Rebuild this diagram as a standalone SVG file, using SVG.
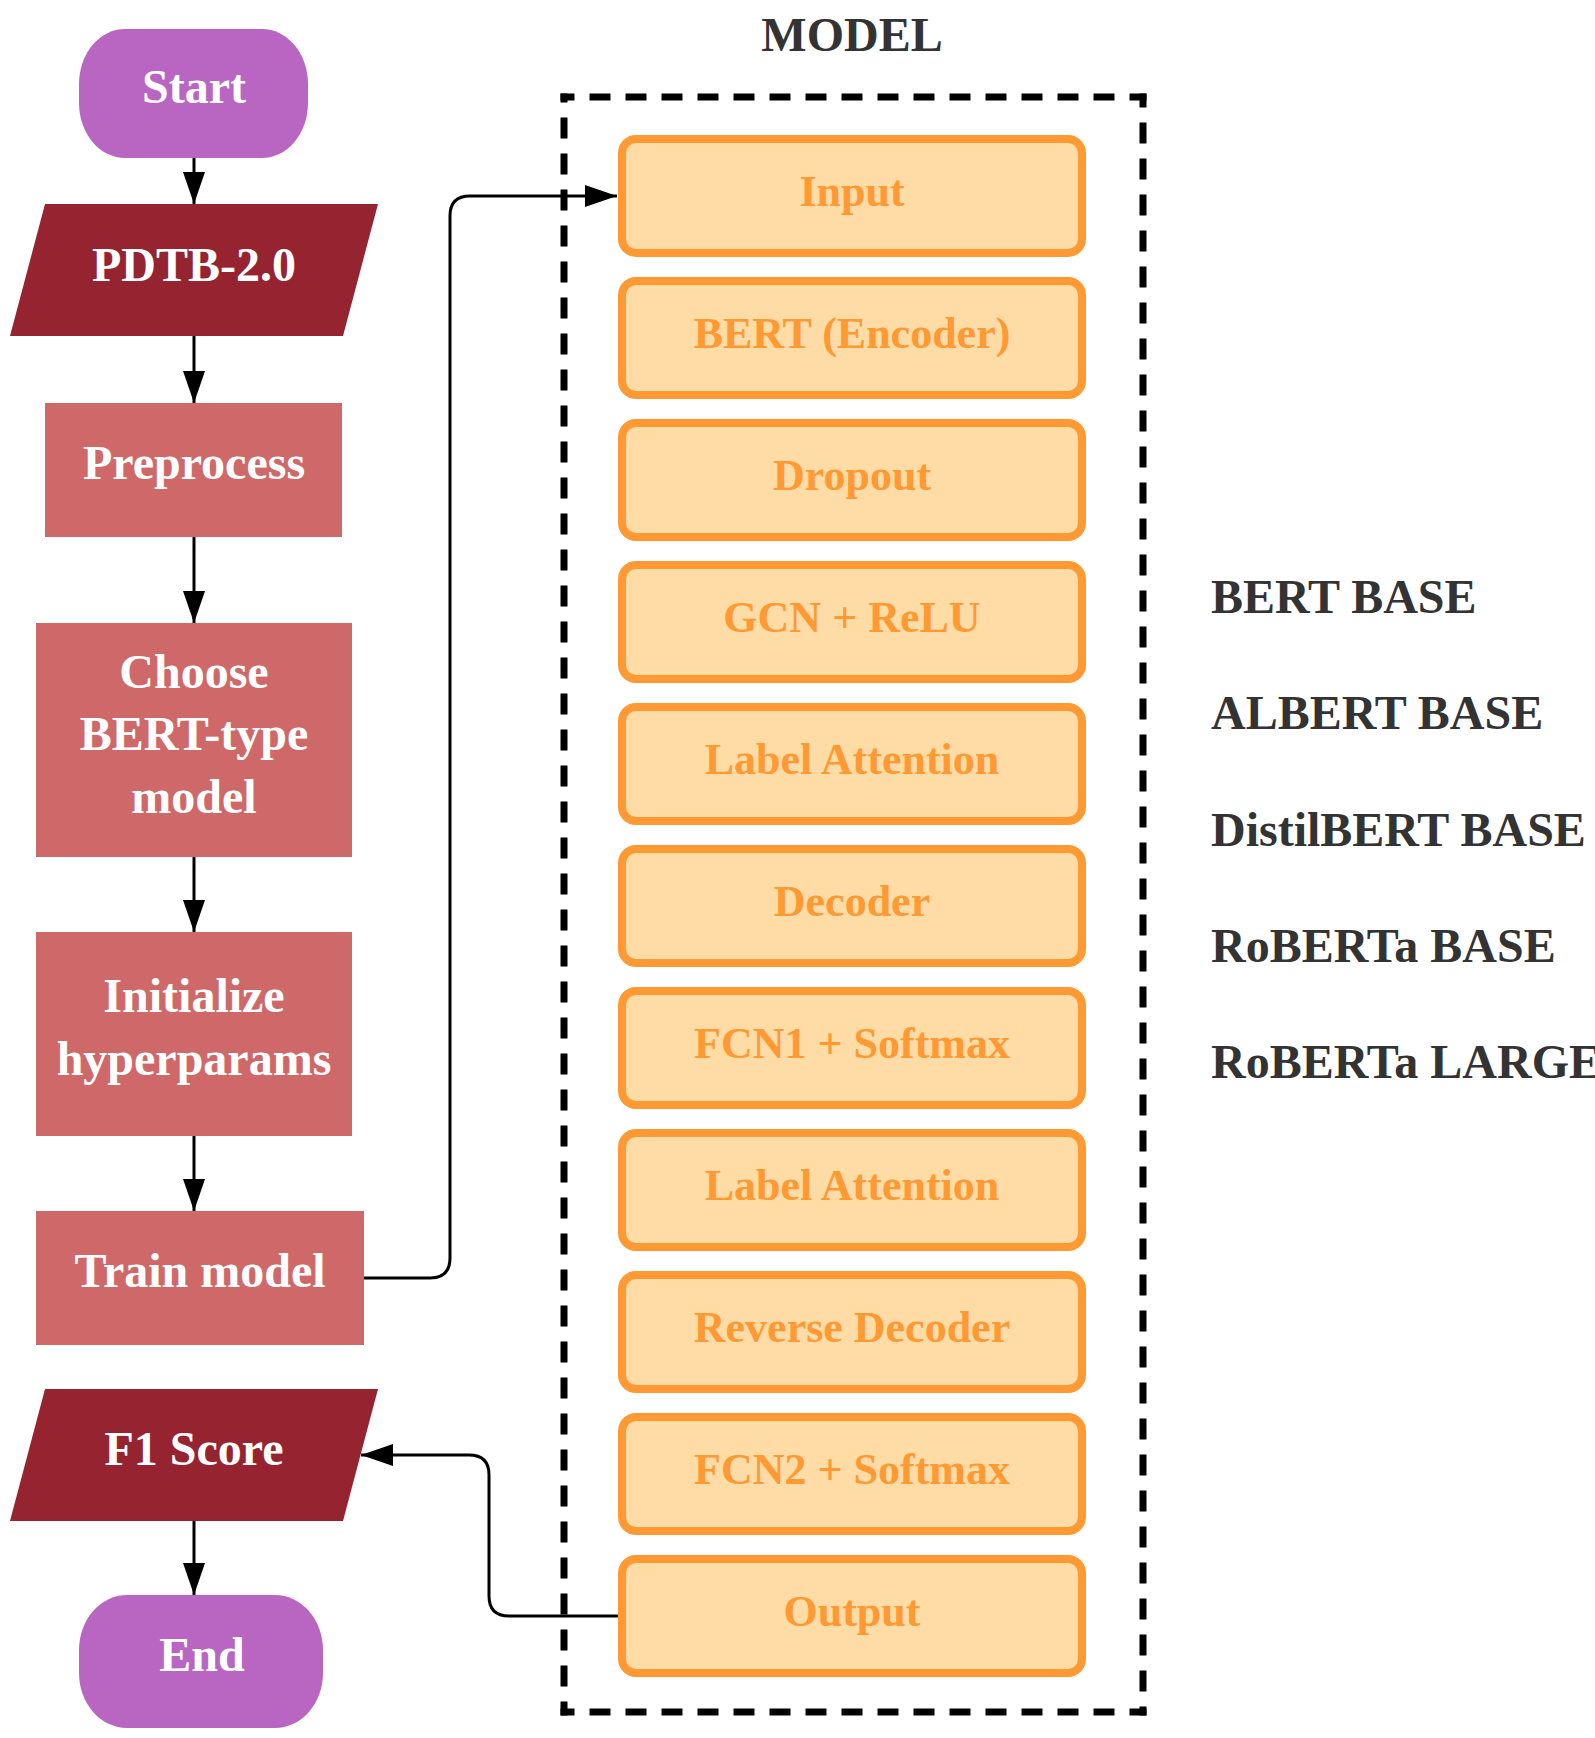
<svg xmlns="http://www.w3.org/2000/svg" width="1595" height="1738" viewBox="0 0 1595 1738">
<style>
  text { font-family: "Liberation Serif", "Times New Roman", serif; font-weight: bold; font-size: 48px; text-anchor: middle; }
  .w { fill: #FFFFFF; }
  .o { fill: #FF9933; font-size: 44px; }
  .g { fill: #333333; text-anchor: start; }
  .term { fill: #B966C2; }
  .data { fill: #962330; }
  .proc { fill: #CF6969; }
  .layer { fill: #FFDBA6; stroke: #FF9933; stroke-width: 8; }
  .edge { fill: none; stroke: #000000; stroke-width: 3; }
  .dash { fill: none; stroke: #000000; stroke-width: 7; stroke-dasharray: 14 22; stroke-dashoffset: 7; stroke-linecap: square; }
</style>
<defs>
  <marker id="arrow" markerUnits="userSpaceOnUse" markerWidth="32" markerHeight="22" refX="32" refY="11" orient="auto">
    <path d="M0,0 L32,11 L0,22 Z" fill="#000000"/>
  </marker>
</defs>
<rect width="1595" height="1738" fill="#FFFFFF"/>

<g id="model-frame">
  <text x="852" y="51" fill="#333333">MODEL</text>
  <path class="dash" d="M564,97 L1143,97"/>
  <path class="dash" d="M1143,97 L1143,1712"/>
  <path class="dash" d="M564,1712 L1143,1712"/>
  <path class="dash" d="M564,1712 L564,97"/>
</g>

<g id="connectors">
  <path class="edge" d="M194,158 L194,204" marker-end="url(#arrow)"/>
  <path class="edge" d="M194,336 L194,403" marker-end="url(#arrow)"/>
  <path class="edge" d="M194,537 L194,623" marker-end="url(#arrow)"/>
  <path class="edge" d="M194,857 L194,932" marker-end="url(#arrow)"/>
  <path class="edge" d="M194,1136 L194,1211" marker-end="url(#arrow)"/>
  <path class="edge" d="M194,1521 L194,1595" marker-end="url(#arrow)"/>
  <path class="edge" d="M364,1278 L430,1278 Q450,1278 450,1258 L450,216 Q450,196 470,196 L617,196" marker-end="url(#arrow)"/>
  <path class="edge" d="M618,1616 L509,1616 Q489,1616 489,1596 L489,1475 Q489,1455 469,1455 L361,1455" marker-end="url(#arrow)"/>
</g>

<g id="start">
  <rect class="term" x="79" y="29" width="229" height="129" rx="46" ry="55"/>
  <text class="w" x="194" y="103">Start</text>
</g>
<g id="pdtb">
  <polygon class="data" points="45,204 378,204 343,336 10,336"/>
  <text class="w" x="194" y="281">PDTB-2.0</text>
</g>
<g id="preprocess">
  <rect class="proc" x="45" y="403" width="297" height="134"/>
  <text class="w" x="194" y="479">Preprocess</text>
</g>
<g id="choose">
  <rect class="proc" x="36" y="623" width="316" height="234"/>
  <text class="w" x="194" y="688">Choose</text>
  <text class="w" x="194" y="750">BERT-type</text>
  <text class="w" x="194" y="813">model</text>
</g>
<g id="initialize">
  <rect class="proc" x="36" y="932" width="316" height="204"/>
  <text class="w" x="194" y="1012">Initialize</text>
  <text class="w" x="194" y="1075">hyperparams</text>
</g>
<g id="train">
  <rect class="proc" x="36" y="1211" width="328" height="134"/>
  <text class="w" x="200" y="1287">Train model</text>
</g>
<g id="f1">
  <polygon class="data" points="45,1389 378,1389 343,1521 10,1521"/>
  <text class="w" x="194" y="1465">F1 Score</text>
</g>
<g id="end">
  <rect class="term" x="79" y="1595" width="244" height="133" rx="48" ry="55"/>
  <text class="w" x="202" y="1671">End</text>
</g>

<g id="layer-input"><rect class="layer" x="622" y="139" width="460" height="114" rx="14"/><text class="o" x="852" y="206">Input</text></g>
<g id="layer-bert"><rect class="layer" x="622" y="281" width="460" height="114" rx="14"/><text class="o" x="852" y="348">BERT (Encoder)</text></g>
<g id="layer-dropout"><rect class="layer" x="622" y="423" width="460" height="114" rx="14"/><text class="o" x="852" y="490">Dropout</text></g>
<g id="layer-gcn"><rect class="layer" x="622" y="565" width="460" height="114" rx="14"/><text class="o" x="852" y="632">GCN + ReLU</text></g>
<g id="layer-label-attention-1"><rect class="layer" x="622" y="707" width="460" height="114" rx="14"/><text class="o" x="852" y="774">Label Attention</text></g>
<g id="layer-decoder"><rect class="layer" x="622" y="849" width="460" height="114" rx="14"/><text class="o" x="852" y="916">Decoder</text></g>
<g id="layer-fcn1"><rect class="layer" x="622" y="991" width="460" height="114" rx="14"/><text class="o" x="852" y="1058">FCN1 + Softmax</text></g>
<g id="layer-label-attention-2"><rect class="layer" x="622" y="1133" width="460" height="114" rx="14"/><text class="o" x="852" y="1200">Label Attention</text></g>
<g id="layer-reverse-decoder"><rect class="layer" x="622" y="1275" width="460" height="114" rx="14"/><text class="o" x="852" y="1342">Reverse Decoder</text></g>
<g id="layer-fcn2"><rect class="layer" x="622" y="1417" width="460" height="114" rx="14"/><text class="o" x="852" y="1484">FCN2 + Softmax</text></g>
<g id="layer-output"><rect class="layer" x="622" y="1559" width="460" height="114" rx="14"/><text class="o" x="852" y="1626">Output</text></g>

<g id="model-variants">
  <text class="g" x="1211" y="613">BERT BASE</text>
  <text class="g" x="1211" y="729">ALBERT BASE</text>
  <text class="g" x="1211" y="846">DistilBERT BASE</text>
  <text class="g" x="1211" y="962">RoBERTa BASE</text>
  <text class="g" x="1211" y="1078">RoBERTa LARGE</text>
</g>
</svg>
